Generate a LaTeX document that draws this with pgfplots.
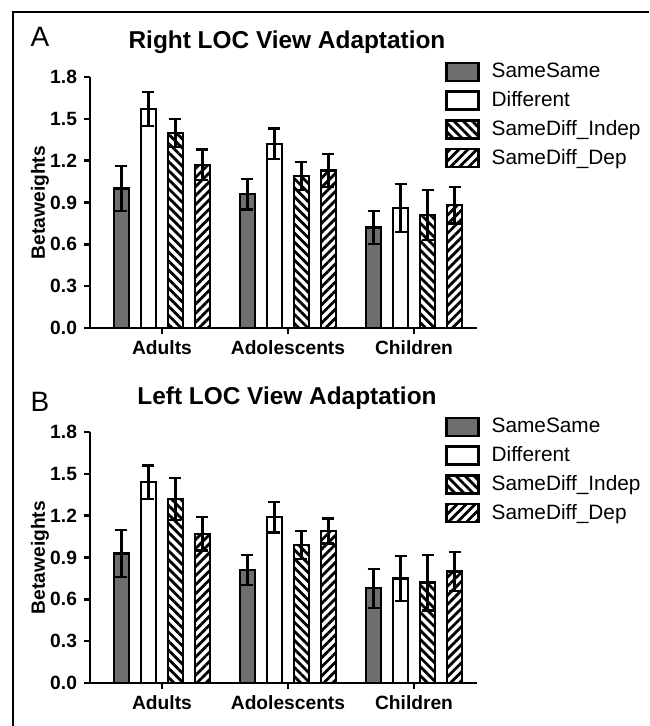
\documentclass[border=0pt]{standalone}
\usepackage{fontspec}
\setmainfont{Liberation Sans}
\usepackage{pgfplots}
\usepackage{pgfplotstable}
\pgfplotsset{compat=1.18}
\usetikzlibrary{patterns.meta}

\definecolor{barg}{RGB}{110,110,110}

% Right LOC (panel A)
\pgfplotstableread{
x SS SSe D De I Ie Dp Dpe
0 1.00 0.16 1.57 0.12 1.40 0.10 1.17 0.11
1 0.96 0.11 1.32 0.11 1.09 0.10 1.13 0.12
2 0.72 0.12 0.86 0.17 0.81 0.18 0.88 0.13
}\rightloc

% Left LOC (panel B)
\pgfplotstableread{
x SS SSe D De I Ie Dp Dpe
0 0.93 0.17 1.44 0.12 1.32 0.15 1.07 0.12
1 0.81 0.11 1.19 0.11 0.99 0.10 1.09 0.09
2 0.68 0.14 0.75 0.16 0.72 0.20 0.80 0.14
}\leftloc

\pgfplotsset{
  legbox/.style={legend image code/.code={\draw[##1,line width=1.2pt] (0pt,-4.5pt) rectangle (16pt,4.5pt);}},
  ss/.style={draw=black, fill=barg, line width=1.2pt, legbox},
  df/.style={draw=black, fill=white, line width=1.2pt, legbox},
  ind/.style={draw=black, line width=1.2pt, pattern={Lines[angle=-45,distance=3.2pt,line width=1.4pt]}, pattern color=black, legbox},
  dep/.style={draw=black, line width=1.2pt, pattern={Lines[angle=45,distance=3.2pt,line width=1.4pt]}, pattern color=black, legbox},
  locaxis/.style={
    scale only axis,
    width=193.5pt, height=125.5pt,
    anchor=south west,
    ybar=6.1pt, bar width=7.4pt,
    xmin=-0.571, xmax=2.5,
    ymin=0, ymax=1.8,
    axis lines*=left,
    axis line style={line width=1.25pt},
    tick align=outside,
    major tick length=3pt,
    tick style={line width=1.2pt, black},
    xtick={0,1,2},
    xticklabels={Adults,Adolescents,Children},
    ytick={0,0.3,0.6,0.9,1.2,1.5,1.8},
    /pgf/number format/assume math mode=true,
    y tick label style={/pgf/number format/.cd, fixed, fixed zerofill, precision=1},
    tick label style={font=\bfseries\fontsize{9.6}{11}\selectfont},
    ylabel={Betaweights},
    ylabel style={font=\bfseries\fontsize{9.6}{11}\selectfont, at={(axis description cs:-0.129,0.5)}, anchor=center},
    error bars/y dir=both,
    error bars/y explicit,
    error bars/error bar style={line width=1.1pt, black},
    error bars/error mark options={rotate=90, line width=1.1pt, black, mark size=3pt},
    legend style={at={(axis description cs:0.917,1.065)}, anchor=north west, draw=none, fill=none,
      font=\fontsize{10.4}{11}\selectfont, row sep=3.4pt, inner sep=0pt,
      nodes={inner sep=1pt, anchor=west},
      /tikz/every odd column/.append style={column sep=5pt}},
    legend cell align=left,
    clip=false,
  }
}

\begin{document}
\begin{tikzpicture}
\path[use as bounding box] (0pt,0pt) rectangle (324.5pt,-363pt);
\draw[line width=1pt] (6.5pt,-363pt) -- (6.5pt,-6pt) -- (324.5pt,-6pt);

\node[font=\fontsize{14}{15}\selectfont] at (20pt,-18.5pt) {A};
\node[font=\bfseries\fontsize{12.2}{13}\selectfont] at (143.5pt,-21pt) {Right LOC View Adaptation};
\begin{axis}[locaxis, at={(45pt,-164pt)}]
\addplot[ss] table[x=x, y=SS, y error=SSe] {\rightloc};
\addplot[df] table[x=x, y=D, y error=De] {\rightloc};
\addplot[ind] table[x=x, y=I, y error=Ie] {\rightloc};
\addplot[dep] table[x=x, y=Dp, y error=Dpe] {\rightloc};
\legend{SameSame, Different, SameDiff\_Indep, SameDiff\_Dep}
\end{axis}

\node[font=\fontsize{14}{15}\selectfont] at (20pt,-201pt) {B};
\node[font=\bfseries\fontsize{12.2}{13}\selectfont] at (143.5pt,-199pt) {Left LOC View Adaptation};
\begin{axis}[locaxis, at={(45pt,-341.5pt)}]
\addplot[ss] table[x=x, y=SS, y error=SSe] {\leftloc};
\addplot[df] table[x=x, y=D, y error=De] {\leftloc};
\addplot[ind] table[x=x, y=I, y error=Ie] {\leftloc};
\addplot[dep] table[x=x, y=Dp, y error=Dpe] {\leftloc};
\legend{SameSame, Different, SameDiff\_Indep, SameDiff\_Dep}
\end{axis}
\end{tikzpicture}
\end{document}
